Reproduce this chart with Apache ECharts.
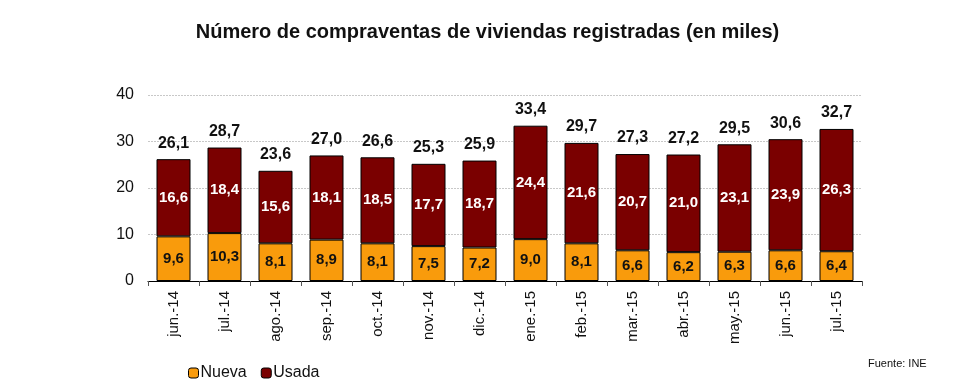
<!DOCTYPE html>
<html><head><meta charset="utf-8">
<script src="https://cdn.jsdelivr.net/npm/echarts@6/dist/echarts.min.js"></script>
<style>html,body{margin:0;padding:0;background:#fff}#c{width:975px;height:390px}</style>
</head><body><div id="c"></div>
<script>
var categories = ['jun.-14','jul.-14','ago.-14','sep.-14','oct.-14','nov.-14','dic.-14','ene.-15','feb.-15','mar.-15','abr.-15','may.-15','jun.-15','jul.-15'];
var nueva = [9.6,10.3,8.1,8.9,8.1,7.5,7.2,9.0,8.1,6.6,6.2,6.3,6.6,6.4];
var usada = [16.6,18.4,15.6,18.1,18.5,17.7,18.7,24.4,21.6,20.7,21.0,23.1,23.9,26.3];
var totals = [26.1,28.7,23.6,27.0,26.6,25.3,25.9,33.4,29.7,27.3,27.2,29.5,30.6,32.7];
var yTicks = [0,10,20,30,40];

function fmt(v){ return v.toFixed(1).replace('.', ','); }
var FONT = '"Liberation Sans", Arial, sans-serif';
var chart = echarts.init(document.getElementById('c'));
chart.setOption({
  animation: false,
  textStyle: {fontFamily: FONT},
  title: {text: 'Número de compraventas de viviendas registradas (en miles)', left: 'center', top: 17,
    textStyle: {fontFamily: FONT, fontSize: 20, fontWeight: 'bold', color: '#111'}},
  legend: {left: 183, top: 360, itemWidth: 10, itemHeight: 10, itemGap: 14,
    textStyle: {fontFamily: FONT, fontSize: 16, color: '#111', padding: [0,0,0,-3]},
    data: [{name:'Nueva', itemStyle:{borderColor:'#000', borderWidth:1}},{name:'Usada', itemStyle:{borderColor:'#000', borderWidth:1}}]},
  graphic: [{type:'text', left: 868, top: 358, style:{text:'Fuente: INE', font: '11px ' + FONT, fill:'#111'}}],
  grid: {left: 148, right: 113, top: 95, bottom: 109},
  xAxis: {type: 'category', data: categories,
    axisLine: {lineStyle: {color: '#000', width: 1.2}},
    axisTick: {show: true, length: 5, lineStyle: {color: '#555'}},
    axisLabel: {rotate: 90, fontSize: 15, color: '#111', margin: 10, fontFamily: FONT}},
  yAxis: {type: 'value', min: 0, max: 40, interval: 10,
    axisLine: {show: false}, axisTick: {show: false},
    axisLabel: {fontSize: 16, color: '#111', margin: 14, fontFamily: FONT,
      formatter: function(v){ return yTicks.indexOf(v) >= 0 ? String(v) : ''; }},
    splitLine: {lineStyle: {color: '#c8c8c8', type: [2,1]}}},
  series: [
    {name: 'Nueva', type: 'bar', stack: 't', data: nueva, barWidth: 34,
      itemStyle: {color: '#F99B0C', borderColor: '#000', borderWidth: 1},
      label: {show: true, position: 'inside', formatter: function(p){return fmt(p.value);},
        fontSize: 15, fontWeight: 'bold', color: '#111', fontFamily: FONT}},
    {name: 'Usada', type: 'bar', stack: 't', data: usada, barWidth: 34,
      itemStyle: {color: '#7A0000', borderColor: '#000', borderWidth: 1},
      label: {show: true, position: 'inside', formatter: function(p){return fmt(p.value);},
        fontSize: 15, fontWeight: 'bold', color: '#fff', fontFamily: FONT}},
    {name: 'Total', type: 'bar', stack: 't', data: totals.map(function(){return 0;}), barWidth: 34,
      itemStyle: {color: 'transparent'},
      label: {show: true, position: 'top', distance: 8, formatter: function(p){return fmt(totals[p.dataIndex]);},
        fontSize: 16, fontWeight: 'bold', color: '#111', fontFamily: FONT}}
  ]
});
</script></body></html>
